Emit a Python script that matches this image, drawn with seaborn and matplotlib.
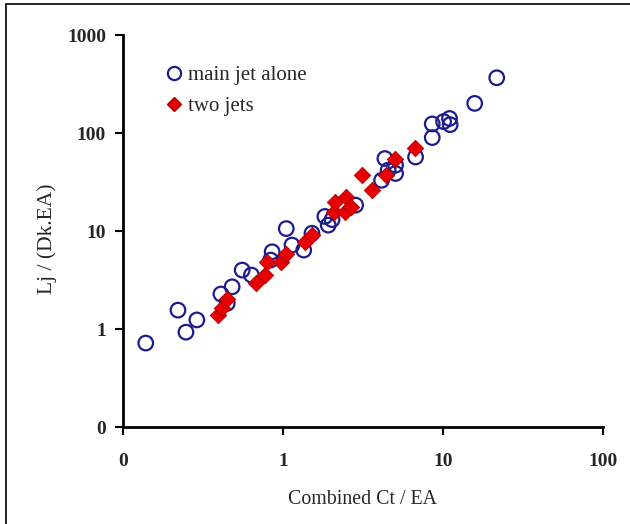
import pandas as pd
import matplotlib
matplotlib.use("Agg")
import matplotlib.pyplot as plt
import seaborn as sns
from matplotlib.ticker import FixedLocator, FixedFormatter, NullLocator
from matplotlib.lines import Line2D

# main jet alone (open circles)
main_x = [0.139, 0.221, 0.248, 0.29, 0.41, 0.449, 0.482, 0.557, 0.636, 0.838,
          0.857, 1.05, 1.14, 1.35, 1.52, 1.83, 1.92, 2.03, 2.85, 4.14,
          4.55, 4.34, 5.06, 5.06, 6.75, 8.58, 8.58, 10.1, 11.0, 11.1,
          15.8, 21.7]
main_y = [0.72, 1.56, 0.93, 1.24, 2.28, 1.83, 2.7, 4.0, 3.56, 5.06,
          6.15, 10.6, 7.2, 6.4, 9.5, 14.1, 11.5, 13.1, 18.4, 33,
          41.9, 55, 38.7, 47, 57, 124, 90, 131, 141, 122,
          201, 367]

# two jets (filled diamonds)
two_x = [0.394, 0.414, 0.449, 0.68, 0.768, 0.8, 0.98, 1.05, 1.37, 1.52,
         2.08, 2.13, 2.47, 2.44, 2.65, 3.58, 3.13, 4.38, 5.0, 6.68]
two_y = [1.39, 1.63, 2.05, 2.93, 3.56, 4.87, 4.87, 5.9, 7.8, 9.1,
         15.8, 20, 22.4, 15.8, 17.7, 26.2, 37, 37, 54, 70]

x_ticks = [0.1, 1, 10, 100]
x_labels = ["0", "1", "10", "100"]
y_ticks = [0.1, 1, 10, 100, 1000]
y_labels = ["0", "1", "10", "100", "1000"]

sns.set_style("white")
plt.rcParams['font.family'] = ['Liberation Serif', 'DejaVu Serif']

main = pd.DataFrame({"x": main_x, "y": main_y})
two = pd.DataFrame({"x": two_x, "y": two_y})

fig = plt.figure(figsize=(6.3, 5.24), dpi=100)
ax = fig.add_axes([0.195, 0.185, 0.762, 0.748])

sns.scatterplot(data=main, x="x", y="y", ax=ax, marker="o", s=110,
                facecolor="none", edgecolor="#1c1c8f", linewidth=1.6)
sns.scatterplot(data=two, x="x", y="y", ax=ax, marker="D", s=70,
                color="#e60000", edgecolor="#b00000", linewidth=0.6)

ax.set_xscale("log")
ax.set_yscale("log")
ax.set_xlim(0.1, 100)
ax.set_ylim(0.1, 1000)

ax.xaxis.set_major_locator(FixedLocator(x_ticks))
ax.xaxis.set_major_formatter(FixedFormatter(x_labels))
ax.yaxis.set_major_locator(FixedLocator(y_ticks))
ax.yaxis.set_major_formatter(FixedFormatter(y_labels))
ax.xaxis.set_minor_locator(NullLocator())
ax.yaxis.set_minor_locator(NullLocator())

for lab in ax.get_xticklabels() + ax.get_yticklabels():
    lab.set_fontweight("bold")
    lab.set_fontsize(14)

ax.tick_params(axis="both", direction="out", length=6, width=1.5,
               color="black", bottom=True, left=True)
ax.tick_params(axis="x", pad=13)
ax.tick_params(axis="y", pad=6)

sns.despine(ax=ax)
for side in ["left", "bottom"]:
    ax.spines[side].set_linewidth(2)
    ax.spines[side].set_color("black")

ax.set_xlabel("Combined Ct / EA", fontsize=14.3, labelpad=14)
ax.set_ylabel("Lj / (Dk.EA)", fontsize=15.5)
ax.yaxis.set_label_coords(-0.137, 0.48)

handles = [
    Line2D([], [], marker="o", linestyle="none", markerfacecolor="none",
           markeredgecolor="#1c1c8f", markeredgewidth=1.6, markersize=9.5),
    Line2D([], [], marker="D", linestyle="none", color="#e60000",
           markeredgecolor="#b00000", markersize=7.5),
]
ax.legend(handles, ["main jet alone", "two jets"], loc="upper left",
          bbox_to_anchor=(0.045, 0.97), frameon=False, fontsize=15,
          handletextpad=0.2, labelspacing=0.55, handlelength=1.0)

# outer frame (left and top edges visible)
fig.add_artist(Line2D([0.009, 0.009], [0.0, 0.992], color="black", lw=1.2,
                      transform=fig.transFigure))
fig.add_artist(Line2D([0.009, 1.0], [0.992, 0.992], color="black", lw=1.2,
                      transform=fig.transFigure))

fig.savefig("out.png", dpi=100)
